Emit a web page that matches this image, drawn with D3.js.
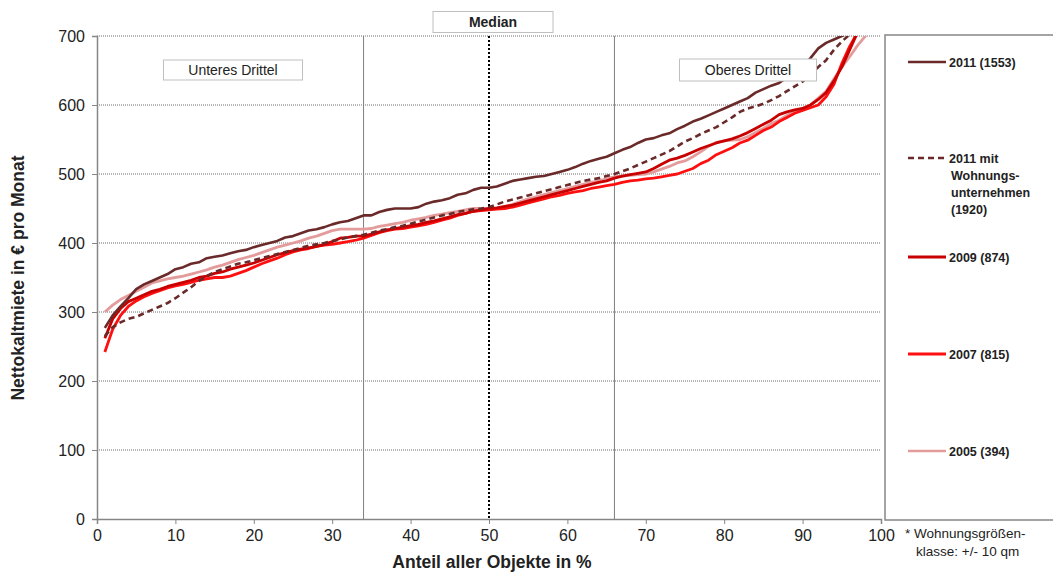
<!DOCTYPE html>
<html><head><meta charset="utf-8">
<script src="https://cdn.jsdelivr.net/npm/d3@7"></script>
<style>
body{margin:0;background:#fff;}
text{font-family:"Liberation Sans",Arial,sans-serif;}
</style></head>
<body><svg id="c" width="1053" height="577"></svg>
<script>
const yTicks = [0,100,200,300,400,500,600,700];
const xTicks = [0,10,20,30,40,50,60,70,80,90,100];
const v2011 = [277,295,308,320,333,340,345,350,355,362,365,370,372,378,380,382,385,388,390,394,397,400,403,408,410,414,418,420,423,427,430,432,436,440,440,445,448,450,450,450,452,457,460,462,465,470,472,477,480,480,482,486,490,492,494,496,497,500,503,506,510,515,519,522,525,530,535,539,545,550,552,556,559,565,570,576,580,585,590,595,600,605,610,618,623,628,632,640,648,655,668,682,690,695,700,705,715];
const v2011wu = [265,278,285,290,293,298,303,308,313,320,328,336,345,352,358,362,366,370,372,375,378,381,384,387,390,393,396,398,400,403,405,408,410,412,415,418,420,423,425,428,431,434,437,440,442,445,447,449,450,452,456,460,463,466,469,472,475,478,481,484,487,490,492,494,497,500,504,508,513,518,523,528,533,540,547,552,558,563,568,575,582,590,595,598,602,607,613,620,627,634,643,655,665,680,692,702];
const v2009 = [262,290,305,315,320,325,330,333,337,340,343,346,350,352,356,358,362,365,368,371,375,379,383,386,389,391,393,395,398,402,407,408,410,410,413,416,419,421,423,425,427,430,432,435,438,441,443,446,448,450,451,453,455,458,461,464,467,470,473,476,479,482,485,488,490,494,497,499,501,503,508,514,520,523,527,532,537,541,545,548,551,555,560,566,572,578,586,590,593,595,600,608,618,635,655,680,705];
const v2007 = [242,275,295,308,316,322,327,331,335,338,340,343,346,348,350,350,352,356,360,365,370,374,378,383,387,390,392,395,397,398,400,402,404,407,411,415,418,420,421,423,425,427,430,433,436,440,443,446,447,448,449,450,452,455,458,461,464,467,469,472,474,476,479,481,483,485,488,490,491,493,494,496,498,500,504,508,515,520,528,533,538,545,549,556,563,568,576,582,588,592,596,600,612,630,660,685,705];
const v2005 = [300,310,318,324,330,336,342,345,348,350,352,355,358,361,365,368,372,376,379,382,386,390,394,397,400,403,407,410,414,418,420,420,420,420,421,424,426,428,430,433,435,437,440,442,444,446,448,450,450,450,450,452,456,460,464,467,470,473,476,479,482,485,488,490,493,496,497,498,499,500,503,507,511,516,519,525,532,540,546,548,549,550,554,560,566,573,578,585,590,595,600,610,620,638,655,670,686,700,712];
const seriesNames = ["2011 (1553)","2011 mit Wohnungs-unternehmen (1920)","2009 (874)","2007 (815)","2005 (394)"];

const svg = d3.select("#c");
const x = d3.scaleLinear().domain([0,100]).range([97,881]);
const y = d3.scaleLinear().domain([0,700]).range([519,36]);

// gridlines
svg.append("g").selectAll("line").data(yTicks.filter(d=>d>0)).join("line")
  .attr("x1",x(0)).attr("x2",x(100)).attr("y1",d=>y(d)).attr("y2",d=>y(d))
  .attr("stroke","#6e6e6e").attr("stroke-width",1).attr("stroke-dasharray","1,1");

// tercile lines
svg.append("g").selectAll("line").data([34,66]).join("line")
  .attr("x1",d=>x(d)).attr("x2",d=>x(d)).attr("y1",y(700)).attr("y2",y(0))
  .attr("stroke","#7f7f7f").attr("stroke-width",1);
svg.append("line").attr("x1",x(50)).attr("x2",x(50)).attr("y1",y(700)).attr("y2",y(0))
  .attr("stroke","#000").attr("stroke-width",2).attr("stroke-dasharray","2,2");

// axes
const yAxis = d3.axisLeft(y).tickValues(yTicks).tickSize(5).tickPadding(7);
const gy = svg.append("g").attr("transform",`translate(${x(0)},0)`).call(yAxis);
const xAxis = d3.axisBottom(x).tickValues(xTicks).tickSize(5).tickPadding(6);
const gx = svg.append("g").attr("transform",`translate(0,${y(0)})`).call(xAxis);
[gy,gx].forEach(g=>{
  g.select(".domain").attr("stroke","#868686").attr("stroke-width",1.5);
  g.selectAll(".tick line").attr("stroke","#868686");
  g.selectAll(".tick text").attr("font-size",16).attr("fill","#222").attr("font-family","Liberation Sans, Arial, sans-serif");
});

// clip
svg.append("clipPath").attr("id","clip").append("rect")
  .attr("x",x(0)).attr("y",y(700)).attr("width",x(100)-x(0)).attr("height",y(0)-y(700));

const line = d3.line().x((d,i)=>x(i+1)).y(d=>y(d));
const plot = svg.append("g").attr("clip-path","url(#clip)");
const styles = [
  {data:v2005, color:"#e39b9b", dash:null, w:2.8},
  {data:v2007, color:"#ff1010", dash:null, w:2.8},
  {data:v2009, color:"#c80000", dash:null, w:2.8},
  {data:v2011wu, color:"#6b2a2a", dash:"6,4", w:2.6},
  {data:v2011, color:"#6b2a2a", dash:null, w:2.6}
];
styles.forEach(s=>{
  plot.append("path").attr("d",line(s.data)).attr("fill","none")
    .attr("stroke",s.color).attr("stroke-width",s.w)
    .attr("stroke-linejoin","round")
    .attr("stroke-dasharray",s.dash);
});

// label boxes
function box(cx,cy,w,h,txt,bold){
  svg.append("rect").attr("x",cx-w/2).attr("y",cy-h/2).attr("width",w).attr("height",h)
    .attr("fill","#fff").attr("stroke","#bfbfbf").attr("stroke-width",1);
  svg.append("text").attr("x",cx).attr("y",cy+5).attr("text-anchor","middle")
    .attr("font-size",14).attr("font-weight",bold?"bold":"normal").attr("fill","#222").text(txt);
}
box(233,70,139,20,"Unteres Drittel",false);
box(493,22,120,21,"Median",true);
box(748,70,137,22,"Oberes Drittel",false);

// axis titles
svg.append("text").attr("x",492).attr("y",568).attr("text-anchor","middle")
  .attr("font-size",17.5).attr("font-weight","bold").attr("fill","#222").text("Anteil aller Objekte in %");
svg.append("text").attr("transform","translate(24,278) rotate(-90)").attr("text-anchor","middle")
  .attr("font-size",17.5).attr("font-weight","bold").attr("fill","#222").text("Nettokaltmiete in € pro Monat");

// legend box
svg.append("rect").attr("x",885).attr("y",35).attr("width",180).attr("height",485)
  .attr("fill","none").attr("stroke","#868686").attr("stroke-width",1.5);
const legItems = [
  {ly:62, color:"#6b2a2a", dash:null, w:2.6, lines:[seriesNames[0]]},
  {ly:158, color:"#6b2a2a", dash:"6,4", w:2.6, lines:["2011 mit","Wohnungs-","unternehmen","(1920)"]},
  {ly:257, color:"#c80000", dash:null, w:3, lines:[seriesNames[2]]},
  {ly:354, color:"#ff1010", dash:null, w:3, lines:[seriesNames[3]]},
  {ly:451, color:"#e39b9b", dash:null, w:2.6, lines:[seriesNames[4]]}
];
legItems.forEach(it=>{
  svg.append("line").attr("x1",908).attr("x2",946).attr("y1",it.ly).attr("y2",it.ly)
    .attr("stroke",it.color).attr("stroke-width",it.w).attr("stroke-dasharray",it.dash);
  const t = svg.append("text").attr("x",949).attr("y",it.ly+4.5)
    .attr("font-size",12.5).attr("font-weight","bold").attr("fill","#222");
  it.lines.forEach((l,i)=>t.append("tspan").attr("x",i===0?949:951).attr("dy",i===0?0:17).text(l));
});

// footnote
svg.append("text").attr("x",905).attr("y",538).attr("font-size",13.5).attr("fill","#222").text("* Wohnungsgrößen-");
svg.append("text").attr("x",916).attr("y",556).attr("font-size",13.5).attr("fill","#222").text("klasse: +/- 10 qm");
</script></body></html>
